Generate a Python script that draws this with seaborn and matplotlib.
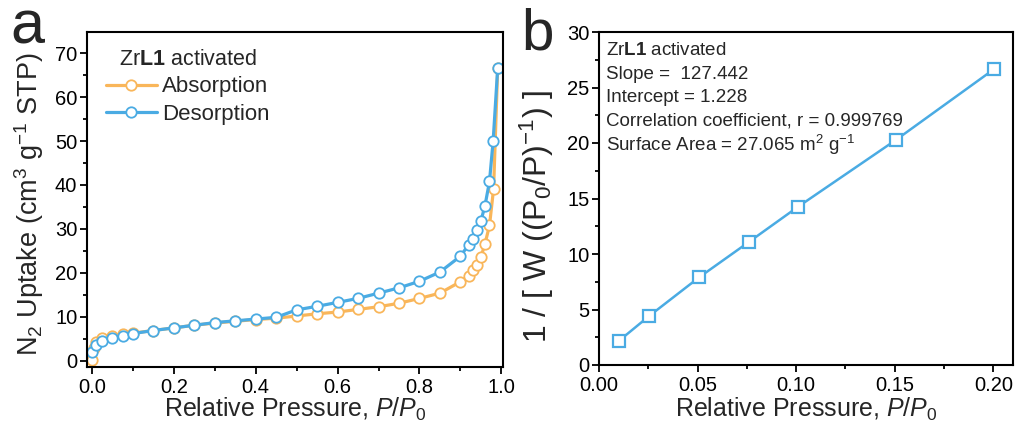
import numpy as np
import pandas as pd
import matplotlib
matplotlib.use("Agg")
import matplotlib.pyplot as plt
import seaborn as sns
from matplotlib.ticker import MultipleLocator

# ---------------- data ----------------
# Panel a: N2 isotherm
ads_p = [0.001, 0.005, 0.011, 0.025, 0.05, 0.075, 0.10, 0.15, 0.20, 0.25, 0.30, 0.35,
         0.40, 0.45, 0.50, 0.55, 0.60, 0.65, 0.70, 0.75, 0.80, 0.85, 0.90, 0.92, 0.93,
         0.94, 0.95, 0.96, 0.971, 0.981, 0.991]
ads_v = [0.3, 3.0, 4.4, 5.1, 5.6, 6.0, 6.3, 6.9, 7.5, 8.1, 8.6, 9.0,
         9.4, 9.7, 10.2, 10.7, 11.1, 11.7, 12.3, 13.1, 14.2, 15.4, 18.0, 19.3, 20.7,
         21.7, 23.6, 26.6, 30.8, 39.1, 66.5]
des_p = [0.0, 0.011, 0.025, 0.05, 0.076, 0.10, 0.15, 0.20, 0.25, 0.30, 0.35, 0.40,
         0.45, 0.50, 0.55, 0.60, 0.65, 0.70, 0.75, 0.80, 0.85, 0.90, 0.92, 0.931,
         0.941, 0.95, 0.96, 0.971, 0.98, 0.991]
des_v = [1.9, 3.6, 4.6, 5.2, 5.7, 6.2, 6.9, 7.5, 8.1, 8.7, 9.1, 9.5,
         9.9, 11.6, 12.4, 13.3, 14.2, 15.4, 16.6, 18.1, 20.2, 23.8, 26.4, 27.8,
         29.7, 31.8, 35.3, 40.8, 50.1, 66.5]

# Panel b: BET plot
bet_p = [0.0102, 0.0252, 0.0508, 0.076, 0.101, 0.1508, 0.2005]
bet_y = [2.19, 4.38, 7.90, 11.08, 14.26, 20.30, 26.67]

series_names = ["Absorption", "Desorption"]
bet_text = [r"Zr$\mathbf{L1}$ activated",
            "Slope =  127.442",
            "Intercept = 1.228",
            "Correlation coefficient, r = 0.999769",
            r"Surface Area = 27.065 m$^{2}$ g$^{-1}$"]

# ---------------- style ----------------
sns.set_theme(style="ticks")
plt.rcParams["font.family"] = ["Liberation Sans", "DejaVu Sans"]
plt.rcParams["mathtext.fontset"] = "custom"
plt.rcParams["mathtext.rm"] = "Liberation Sans"
plt.rcParams["mathtext.it"] = "Liberation Sans:italic"
plt.rcParams["mathtext.bf"] = "Liberation Sans:bold"

ORANGE = "#F9B65A"
BLUE = "#4AABE3"

fig = plt.figure(figsize=(10.18, 4.29), dpi=100)
W, H = 1018, 429
def rect(l, t, r, b):
    return [l / W, 1 - b / H, (r - l) / W, (b - t) / H]

axa = fig.add_axes(rect(87, 32, 503, 367))
axb = fig.add_axes(rect(599, 32, 1013, 365))

df_a = pd.concat([
    pd.DataFrame({"p": ads_p, "v": ads_v, "s": series_names[0]}),
    pd.DataFrame({"p": des_p, "v": des_v, "s": series_names[1]}),
])

sns.lineplot(data=df_a, x="p", y="v", hue="s", palette=[ORANGE, BLUE],
             estimator=None, sort=False, marker="o", markersize=7.5,
             markerfacecolor="white", markeredgewidth=1.3, linewidth=2.3,
             ax=axa, legend=True)
for ln, c in zip(axa.get_lines(), [ORANGE, BLUE]):
    ln.set_markeredgecolor(c)

handles, labels = axa.get_legend_handles_labels()
for h, c in zip(handles, [ORANGE, BLUE]):
    h.set_markeredgecolor(c)
    h.set_markerfacecolor("white")
    h.set_markersize(7.5)
    h.set_markeredgewidth(1.3)
    h.set_linewidth(2.3)
leg = axa.legend(handles, labels, title=r"Zr$\mathbf{L1}$ activated",
                 loc="upper left", bbox_to_anchor=(0.045, 0.95),
                 frameon=False, fontsize=16, title_fontsize=15.5,
                 handlelength=2.3, handletextpad=0.25, labelspacing=0.3,
                 borderpad=0, borderaxespad=0)

axa.set_xlim(-0.012, 1.004)
axa.set_ylim(-1.4, 74.8)
axa.xaxis.set_major_locator(MultipleLocator(0.2))
axa.xaxis.set_minor_locator(MultipleLocator(0.1))
axa.yaxis.set_major_locator(MultipleLocator(10))
axa.yaxis.set_minor_locator(MultipleLocator(5))
axa.xaxis.set_major_formatter(matplotlib.ticker.FormatStrFormatter("%.1f"))
axa.set_xlabel(r"Relative Pressure, $P/P_0$", fontsize=18, va="baseline")
axa.set_ylabel(r"N$_2$ Uptake (cm$^3$ g$^{-1}$ STP)", fontsize=19.5)
axa.xaxis.set_label_coords(0.5, (367 - 417) / 335)
axa.yaxis.set_label_coords(-0.099, 0.485)

# Panel b
df_b = pd.DataFrame({"p": bet_p, "y": bet_y})
sns.lineplot(data=df_b, x="p", y="y", color=BLUE, marker="s", markersize=8,
             markerfacecolor="white", markeredgecolor=BLUE, markeredgewidth=1.6,
             linewidth=1.8, ax=axb)
axb.set_xlim(0, 0.21)
axb.set_ylim(0, 30)
axb.xaxis.set_major_locator(MultipleLocator(0.05))
axb.xaxis.set_minor_locator(MultipleLocator(0.025))
axb.yaxis.set_major_locator(MultipleLocator(5))
axb.yaxis.set_minor_locator(MultipleLocator(2.5))
axb.xaxis.set_major_formatter(matplotlib.ticker.FormatStrFormatter("%.2f"))
axb.set_xlabel(r"Relative Pressure, $P/P_0$", fontsize=18, va="baseline")
axb.set_ylabel(r"1 / [ W ((P$_0$/P)$^{-1}$) ]", fontsize=23)
axb.xaxis.set_label_coords(0.5, (365 - 417) / 333)
axb.yaxis.set_label_coords(-0.104, 0.445)

bl = [55, 79, 102, 125, 151]
for t, y in zip(bet_text, bl):
    axb.text(0.017, (365 - y) / 333, t, transform=axb.transAxes,
             fontsize=13.5, ha="left", va="baseline")

for ax in (axa, axb):
    for sp in ax.spines.values():
        sp.set_visible(True)
        sp.set_linewidth(1.5)
        sp.set_color("black")
    ax.tick_params(which="both", direction="out", top=False, right=False,
                   labelsize=14.5, width=1.3, colors="black")
    ax.tick_params(which="major", length=5)
    ax.tick_params(which="minor", length=3)
    ax.tick_params(axis="x", pad=3)
    ax.tick_params(axis="y", pad=2)
    ax.grid(False)

fig.text(10 / W, 1 - 44 / H, "a", fontsize=44, ha="left", va="baseline")
fig.text(521 / W, 1 - 49 / H, "b", fontsize=42, ha="left", va="baseline")

fig.savefig("out.png", dpi=100)
